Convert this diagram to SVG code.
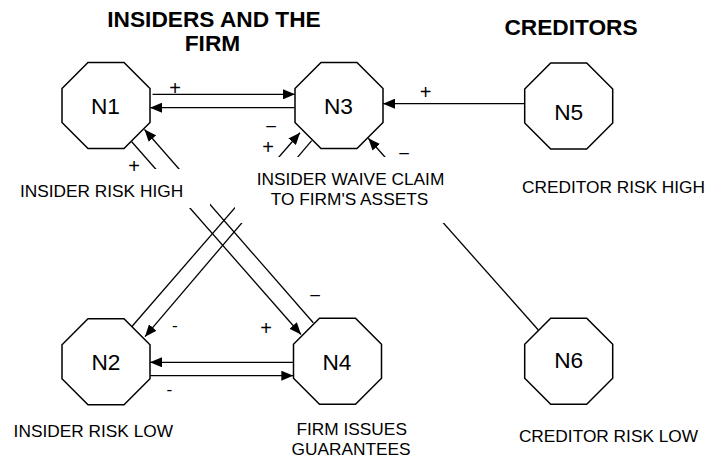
<svg xmlns="http://www.w3.org/2000/svg" width="707" height="459" viewBox="0 0 707 459">
<defs>
<marker id="ah" markerUnits="userSpaceOnUse" markerWidth="12" markerHeight="10" refX="12" refY="5" orient="auto"><path d="M0,0 L12,5 L0,10 z" fill="#000"/></marker>
<polygon id="oct" points="-18,-43 18,-43 44,-17 44,17 18,43 -18,43 -44,17 -44,-17"/>
</defs>
<style>
.oct{fill:#fff;stroke:#000;stroke-width:1.5}
.c{stroke:#000;stroke-width:1.3;fill:none}
.a{marker-end:url(#ah)}
text{font-family:"Liberation Sans",Arial,sans-serif;fill:#000}
.t{font-size:17.3px;text-anchor:middle}
.n{font-size:22.7px;text-anchor:middle}
.h{font-size:22.7px;font-weight:bold;text-anchor:middle}
.s{font-size:17.3px;text-anchor:middle}
.p{font-size:20px;text-anchor:middle}
.bg{fill:#fff}
</style>
<rect width="707" height="459" fill="#fff"/>
<g id="titles">
<text class="h" x="214" y="26.7">INSIDERS AND THE</text>
<text class="h" x="212.5" y="50.5">FIRM</text>
<text class="h" x="571" y="35">CREDITORS</text>
</g>
<g id="connectors">
<path class="c a" d="M152.5,94.3 H295"/>
<path class="c a" d="M294.5,107.7 H150"/>
<path class="c a" d="M525,103.7 H383"/>
<path class="c a" d="M131.7,141.7 L301,334.5"/>
<path class="c a" d="M313.3,322.7 L144.5,129.5"/>
<path class="c a" d="M131.7,326.7 L300,132.7"/>
<path class="c a" d="M311.7,140.7 L145,336.7"/>
<path class="c a" d="M538.3,330 L368.3,138.3"/>
<path class="c a" d="M293.3,362.3 H150"/>
<path class="c a" d="M150,375.7 H293.3"/>
</g>
<g id="N1">
<use href="#oct" class="oct" x="106" y="105.5"/>
<text class="n" x="105.5" y="114.3">N1</text>
<rect class="bg" x="10" y="169" width="200" height="39"/>
<text class="t" x="101.5" y="196.7">INSIDER RISK HIGH</text>
</g>
<g id="N3">
<use href="#oct" class="oct" x="339" y="105.5"/>
<text class="n" x="338.5" y="113.5">N3</text>
<rect class="bg" x="235" y="157" width="220" height="66"/>
<text class="t" x="350.5" y="185">INSIDER WAIVE CLAIM</text>
<text class="t" x="349.5" y="205">TO FIRM'S ASSETS</text>
</g>
<g id="N5">
<use href="#oct" class="oct" x="568.7" y="106"/>
<text class="n" x="568.7" y="119.5">N5</text>
<text class="t" x="613.5" y="192.7">CREDITOR RISK HIGH</text>
</g>
<g id="N2">
<use href="#oct" class="oct" x="106" y="361.7"/>
<text class="n" x="106" y="370">N2</text>
<text class="t" x="93.3" y="436.7">INSIDER RISK LOW</text>
</g>
<g id="N4">
<use href="#oct" class="oct" x="337.5" y="361.2"/>
<text class="n" x="337" y="369.5">N4</text>
<text class="t" x="351.7" y="435">FIRM ISSUES</text>
<text class="t" x="351" y="455">GUARANTEES</text>
</g>
<g id="N6">
<use href="#oct" class="oct" x="568.7" y="361.3"/>
<text class="n" x="568.7" y="368.3">N6</text>
<text class="t" x="608.5" y="441.5">CREDITOR RISK LOW</text>
</g>
<g id="connector-labels">
<text class="p" x="175" y="94.7">+</text>
<text class="p" x="425.5" y="99">+</text>
<text class="p" x="134" y="173">+</text>
<text class="s" x="271" y="130.8">–</text>
<text class="p" x="268" y="154">+</text>
<text class="s" x="404" y="157.5">–</text>
<text class="s" x="175" y="330.5">-</text>
<text class="p" x="266" y="335.3">+</text>
<text class="s" x="315" y="299.8">–</text>
<text class="s" x="169.3" y="394.8">-</text>
</g>
</svg>
